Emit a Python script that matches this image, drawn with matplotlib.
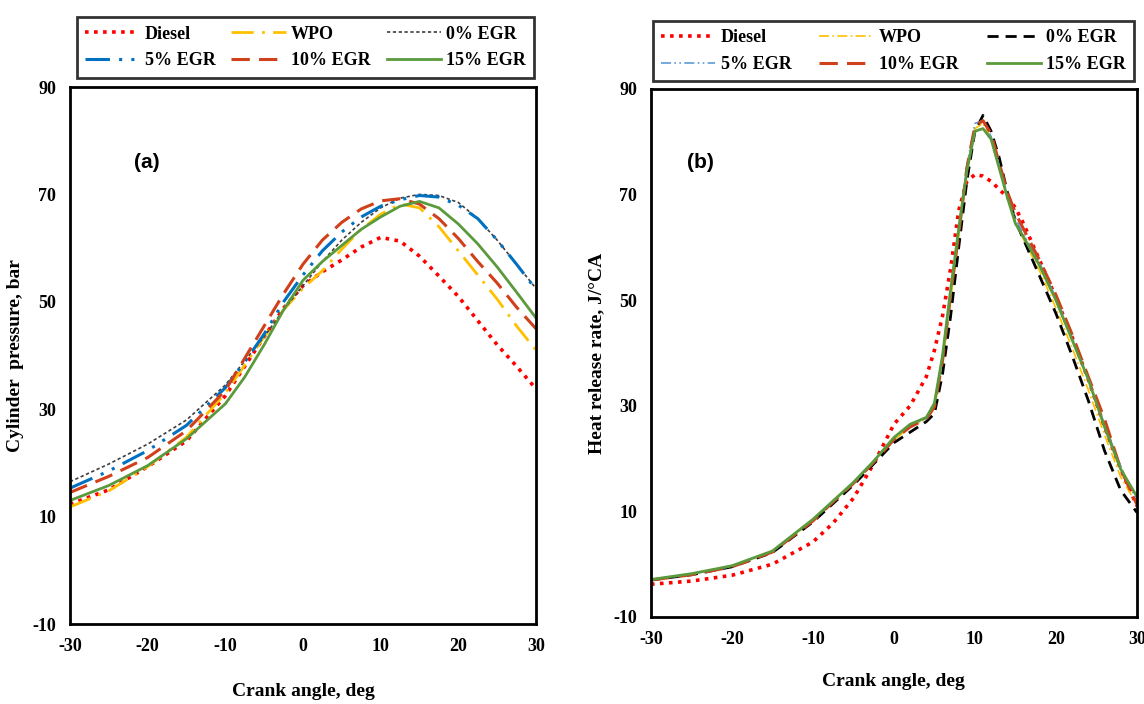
import matplotlib.pyplot as plt

plt.rcParams['axes.unicode_minus'] = False

# crank angle grids
ca_a = [-30, -25, -20, -15, -10, -7.5, -5, -2.5, 0, 2.5, 5, 7.5, 10, 12.5, 15, 17.5, 20, 22.5, 25, 27.5, 30]
ca_b = [-30, -25, -20, -15, -10, -7.5, -5, -2.5, 0, 2, 4, 5, 6, 7, 8, 9, 10, 11, 12, 13, 14, 15, 16, 18, 20, 22, 24, 26, 28, 30]

labels = ['Diesel', 'WPO', '0% EGR', '5% EGR', '10% EGR', '15% EGR']

# (a) cylinder pressure, bar
p_diesel = [12.3, 15.0, 19.3, 24.1, 32.5, 38.0, 43.5, 48.8, 53.0, 55.6, 57.8, 60.2, 62.0, 61.3, 58.5, 54.8, 51.0, 46.5, 42.0, 38.0, 33.8]
p_wpo = [11.8, 14.8, 19.3, 24.8, 33.0, 38.2, 43.5, 48.5, 52.5, 55.8, 59.8, 63.5, 66.3, 68.2, 67.5, 64.0, 59.5, 55.0, 50.5, 45.5, 41.0]
p_egr0 = [16.5, 19.8, 23.5, 28.0, 34.5, 39.0, 43.5, 48.5, 53.0, 57.5, 61.5, 64.8, 67.5, 69.3, 70.0, 69.8, 68.5, 65.5, 61.5, 57.0, 52.5]
p_egr5 = [15.3, 18.5, 22.3, 27.0, 34.0, 38.8, 44.0, 50.0, 55.0, 59.5, 63.0, 65.8, 67.8, 69.0, 69.8, 69.5, 68.0, 65.5, 61.5, 57.0, 52.3]
p_egr10 = [14.5, 17.5, 21.0, 26.0, 33.5, 39.5, 45.5, 51.5, 57.0, 61.5, 64.8, 67.3, 68.8, 69.2, 68.2, 65.5, 61.8, 57.5, 53.5, 49.0, 45.0]
p_egr15 = [13.0, 15.8, 19.5, 24.5, 31.0, 36.0, 42.0, 48.5, 54.0, 57.5, 60.5, 63.5, 65.8, 67.8, 68.7, 67.5, 64.5, 60.8, 56.5, 51.8, 47.0]

# (b) heat release rate, J/oCA
h_diesel = [-3.8, -3.2, -2.1, 0.0, 4.2, 7.8, 12.5, 19.0, 26.5, 30.0, 35.5, 40.5, 47.0, 56.0, 67.0, 72.5, 73.8, 73.5, 72.5, 71.0, 69.5, 67.5, 64.5, 57.5, 50.5, 43.0, 35.0, 26.0, 18.0, 11.0]
h_wpo = [-3.0, -1.9, -0.4, 2.3, 8.2, 11.8, 15.3, 19.3, 23.5, 26.0, 27.5, 29.5, 38.0, 50.0, 62.0, 74.0, 82.5, 83.5, 80.5, 75.0, 69.5, 64.5, 61.5, 55.5, 48.5, 41.0, 33.0, 24.5, 16.5, 11.3]
h_egr0 = [-3.0, -2.0, -0.5, 2.2, 8.0, 11.5, 15.0, 19.0, 23.0, 25.0, 27.0, 28.5, 36.0, 47.0, 60.0, 72.5, 82.0, 85.0, 82.0, 77.0, 70.5, 65.0, 61.5, 54.5, 47.5, 39.5, 31.0, 21.5, 14.0, 9.8]
h_egr5 = [-3.0, -1.9, -0.4, 2.4, 8.4, 11.9, 15.4, 19.4, 23.8, 26.2, 27.6, 30.0, 39.0, 51.5, 63.0, 75.5, 83.5, 84.0, 81.0, 75.5, 70.0, 65.5, 62.5, 57.0, 50.5, 43.0, 35.0, 26.5, 18.5, 12.0]
h_egr10 = [-3.0, -2.0, -0.5, 2.3, 8.2, 11.8, 15.3, 19.3, 23.6, 26.0, 27.5, 29.8, 38.5, 51.0, 62.5, 75.0, 83.0, 84.0, 81.5, 76.0, 70.5, 66.5, 63.5, 57.5, 51.0, 43.5, 35.5, 27.5, 18.0, 11.3]
h_egr15 = [-2.9, -1.8, -0.3, 2.5, 8.5, 12.0, 15.5, 19.5, 24.0, 26.5, 27.8, 30.5, 39.5, 52.0, 63.5, 74.5, 82.0, 82.5, 80.5, 75.0, 69.5, 64.5, 62.0, 56.5, 50.0, 42.5, 35.0, 26.0, 18.0, 12.8]

serif = 'Liberation Serif'

fig = plt.figure(figsize=(11.44, 7.04), dpi=100)
ax1 = fig.add_axes([0.0612, 0.1136, 0.4073, 0.7628])
ax2 = fig.add_axes([0.569, 0.1236, 0.4248, 0.75])

# style: color, linestyle, width
sty_a = [('#ff0000', (0, (1, 1.5)), 2.6),
         ('#ffc000', (0, (8, 3, 1, 3)), 2.0),
         ('#404040', (0, (2, 1.5)), 1.2),
         ('#0070c0', (0, (8, 3, 1, 3, 1, 3)), 2.2),
         ('#d0401a', (0, (6, 3)), 2.2),
         ('#5b9a3c', '-', 2.0)]
sty_b = [('#ff0000', (0, (1, 1.5)), 2.6),
         ('#ffc000', (0, (6, 2, 1, 2)), 1.2),
         ('#000000', (0, (4, 2.5)), 2.0),
         ('#5b9bd5', (0, (6, 2, 1, 2, 1, 2)), 1.2),
         ('#d0401a', (0, (6, 3)), 2.2),
         ('#5b9a3c', '-', 2.0)]

data_a = [p_diesel, p_wpo, p_egr0, p_egr5, p_egr10, p_egr15]
data_b = [h_diesel, h_wpo, h_egr0, h_egr5, h_egr10, h_egr15]

lines_a = []
for y, (c, ls, lw), lab in zip(data_a, sty_a, labels):
    l, = ax1.plot(ca_a, y, color=c, linestyle=ls, linewidth=lw, label=lab)
    lines_a.append(l)
lines_b = []
for y, (c, ls, lw), lab in zip(data_b, sty_b, labels):
    l, = ax2.plot(ca_b, y, color=c, linestyle=ls, linewidth=lw, label=lab)
    lines_b.append(l)

# legend fills column-wise, reorder so rows read Diesel/WPO/0% then 5/10/15
order = [0, 3, 1, 4, 2, 5]

for ax, lines, ylab, tag, tx, box, xpad in [
        (ax1, lines_a, 'Cylinder  pressure, bar', '(a)', -21.8, (0.0673, 0.8864, 0.3995, 0.0923), 20),
        (ax2, lines_b, 'Heat release rate, J/\u00b0CA', '(b)', -25.5, (0.5708, 0.8835, 0.4205, 0.088), 18)]:
    ax.set_xlim(-30, 30)
    ax.set_ylim(-10, 90)
    ax.set_xticks([-30, -20, -10, 0, 10, 20, 30])
    ax.set_yticks([-10, 10, 30, 50, 70, 90])
    ax.tick_params(length=0, pad=10, labelsize=13)
    for t in ax.get_xticklabels() + ax.get_yticklabels():
        t.set_fontfamily(serif)
        t.set_fontweight('bold')
    for s in ax.spines.values():
        s.set_linewidth(2)
        s.set_color('black')
    ax.set_xlabel('Crank angle, deg', family=serif, fontweight='bold', fontsize=14, labelpad=xpad)
    ax.set_ylabel(ylab, family=serif, fontweight='bold', fontsize=14, labelpad=6)
    ax.text(tx, 76, tag, family='Liberation Sans', fontweight='bold', fontsize=15, va='center')
    leg = fig.legend(handles=[lines[i] for i in order], loc='center', bbox_to_anchor=box, mode='expand',
                     ncol=3, fancybox=False, handlelength=3.0, handletextpad=0.3,
                     borderaxespad=0, prop={'family': serif, 'weight': 'bold', 'size': 13},
                     labelspacing=0.55, borderpad=0.45)
    leg.get_frame().set_edgecolor('black')
    leg.get_frame().set_linewidth(2)

fig.savefig('out.png', dpi=100)
